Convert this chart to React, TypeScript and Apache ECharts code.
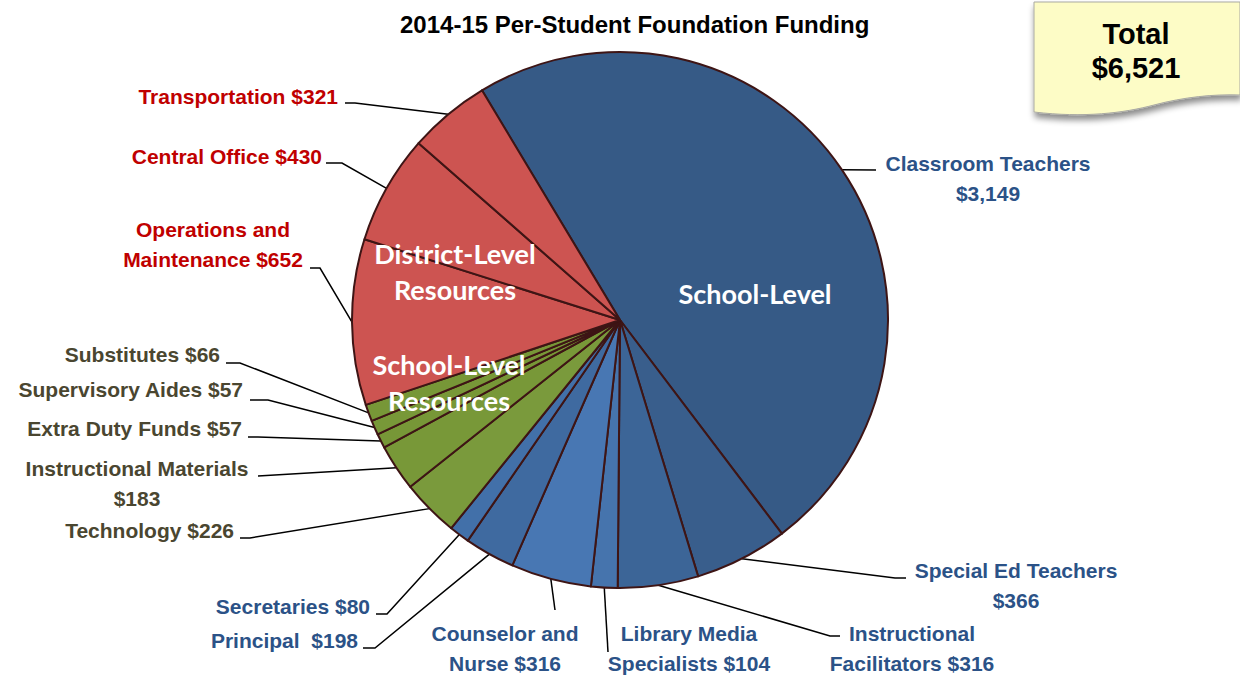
import React, { useEffect, useRef } from "react";
import * as echarts from "echarts";

// ---- data ----
const categories = [
  "Classroom Teachers\n$3,149",
  "Special Ed Teachers\n$366",
  "Instructional\nFacilitators $316",
  "Library Media\nSpecialists $104",
  "Counselor and\nNurse $316",
  "Principal  $198",
  "Secretaries $80",
  "Technology $226",
  "Instructional Materials\n$183",
  "Extra Duty Funds $57",
  "Supervisory Aides $57",
  "Substitutes $66",
  "Operations and\nMaintenance $652",
  "Central Office $430",
  "Transportation $321",
];
const values = [3149, 366, 316, 104, 316, 198, 80, 226, 183, 57, 57, 66, 652, 430, 321];
const groups = ["school", "school", "school", "school", "school", "school", "school", "res", "res", "res", "res", "res", "district", "district", "district"];
const totalLabel = ["Total", "$6,521"];
const titleText = "2014-15 Per-Student Foundation Funding";
const innerLabels = ["School-Level", "District-Level\nResources", "School-Level\nResources"];

// ---- styles / layout ----
const sliceColors = [
  "#365a86", "#395e8c", "#3c6597", "#4674ad", "#4877b3", "#3f6aa0", "#4270a9",
  "#7a9a3c", "#789838", "#779737", "#789838", "#779737",
  "#cd5451", "#cc5350", "#cd5451",
];
const groupTextColor: Record<string, string> = {
  school: "#2b5287",
  res: "#4a4630",
  district: "#c00000",
};
const NARROW = "'Liberation Sans Narrow', 'Arial Narrow', 'Liberation Sans', Arial, sans-serif";
const CX = 620;
const CY = 320;
const R = 268;
const START = 121;

type LP = { x: number; y: number; align: string; elbow: number[]; end: number[] };
const labelPos: LP[] = [
  { x: 988, y: 178, align: "center", elbow: [876, 170], end: [876, 170] },
  { x: 1016, y: 585, align: "center", elbow: [895, 578], end: [906, 578] },
  { x: 912, y: 648, align: "center", elbow: [830, 636], end: [840, 636] },
  { x: 689, y: 648, align: "center", elbow: [608, 652], end: [608, 652] },
  { x: 505, y: 648, align: "center", elbow: [555, 610], end: [555, 610] },
  { x: 358, y: 640, align: "right", elbow: [375, 648], end: [363, 648] },
  { x: 370, y: 606, align: "right", elbow: [387, 614], end: [376, 614] },
  { x: 234, y: 530, align: "right", elbow: [250, 538], end: [240, 538] },
  { x: 137, y: 483, align: "center", elbow: [258, 476], end: [258, 476] },
  { x: 242, y: 428, align: "right", elbow: [258, 437], end: [248, 437] },
  { x: 243, y: 389, align: "right", elbow: [268, 400], end: [250, 400] },
  { x: 220, y: 354, align: "right", elbow: [240, 363], end: [226, 363] },
  { x: 213, y: 244, align: "center", elbow: [320, 268], end: [310, 268] },
  { x: 322, y: 156, align: "right", elbow: [342, 163], end: [326, 163] },
  { x: 338, y: 96, align: "right", elbow: [355, 103], end: [345, 103] },
];

const NOTE_PATH = "M0 0 L206 0 L206 93 C180 92 150 95 120 103 C90 111 50 116 0 110 Z";
const INNER_FONT = "bold 27px Lato, 'Open Sans', sans-serif";

export default function App() {
  const ref = useRef<HTMLDivElement>(null);
  useEffect(() => {
    if (!ref.current) return;
    try {
      echarts.graphic.registerShape("note", echarts.graphic.extendPath(NOTE_PATH, {}) as any);
    } catch (e) {}
    const chart = echarts.init(ref.current, undefined, { renderer: "svg" });
    const total = values.reduce((a, b) => a + b, 0);
    const midPoints: number[][] = [];
    let acc = 0;
    values.forEach((v) => {
      const mid = START - ((acc + v / 2) / total) * 360;
      acc += v;
      const rad = (mid * Math.PI) / 180;
      midPoints.push([CX + R * Math.cos(rad), CY - R * Math.sin(rad)]);
    });

    chart.setOption({
      animation: false,
      backgroundColor: "#ffffff",
      graphic: [
        {
          type: "text",
          left: 640 - 240,
          top: 12,
          style: {
            text: titleText,
            font: `bold 24px ${NARROW}`,
            fill: "#000",
            width: 480,
            align: "center",
          },
        },
        {
          type: "note",
          x: 1034,
          y: 2,
          shape: {},
          style: {
            fill: "#fdfcc6",
            stroke: "#a9a9a2",
            lineWidth: 1,
            shadowBlur: 6,
            shadowOffsetY: 5,
            shadowOffsetX: 1,
            shadowColor: "rgba(0,0,0,0.45)",
          },
          z: 10,
        },
        {
          type: "text",
          x: 1136,
          y: 34,
          z: 11,
          style: { text: totalLabel[0], font: `bold 29px ${NARROW}`, fill: "#000", align: "center", verticalAlign: "middle" },
        },
        {
          type: "text",
          x: 1136,
          y: 68,
          z: 11,
          style: { text: totalLabel[1], font: `bold 29px ${NARROW}`, fill: "#000", align: "center", verticalAlign: "middle" },
        },
        {
          type: "text",
          x: 755,
          y: 293,
          z: 20,
          style: { text: innerLabels[0], font: INNER_FONT, fill: "#fff", align: "center", verticalAlign: "middle" },
        },
        {
          type: "text",
          x: 455,
          y: 271,
          z: 20,
          style: { text: innerLabels[1], font: INNER_FONT, fill: "#fff", align: "center", verticalAlign: "middle", lineHeight: 36 },
        },
        {
          type: "text",
          x: 449,
          y: 382,
          z: 20,
          style: { text: innerLabels[2], font: INNER_FONT, fill: "#fff", align: "center", verticalAlign: "middle", lineHeight: 36 },
        },
      ],
      series: [
        {
          type: "pie",
          center: [CX, CY],
          radius: R,
          startAngle: START,
          clockwise: true,
          avoidLabelOverlap: false,
          minShowLabelAngle: 0,
          itemStyle: { borderColor: "#3e1515", borderWidth: 2 },
          label: {
            show: true,
            position: "outside",
            formatter: "{b}",
            fontFamily: NARROW,
            fontWeight: "bold",
            fontSize: 21,
            lineHeight: 30,
          },
          labelLine: {
            show: true,
            length: 10,
            length2: 10,
            lineStyle: { color: "#000", width: 1.5 },
          },
          labelLayout: (p: any) => {
            const L = labelPos[p.dataIndex];
            const s = midPoints[p.dataIndex];
            return {
              x: L.x,
              y: L.y,
              align: L.align,
              verticalAlign: "middle",
              labelLinePoints: [s, L.elbow, L.end],
            };
          },
          emphasis: { disabled: true },
          data: values.map((v, i) => ({
            name: categories[i],
            value: v,
            itemStyle: { color: sliceColors[i] },
            label: { color: groupTextColor[groups[i]], align: labelPos[i].align },
          })),
        },
      ],
    });
    return () => chart.dispose();
  }, []);
  return (
    <div
      ref={ref}
      style={{ position: "absolute", left: 0, top: 0, width: 1240, height: 675 }}
    />
  );
}
